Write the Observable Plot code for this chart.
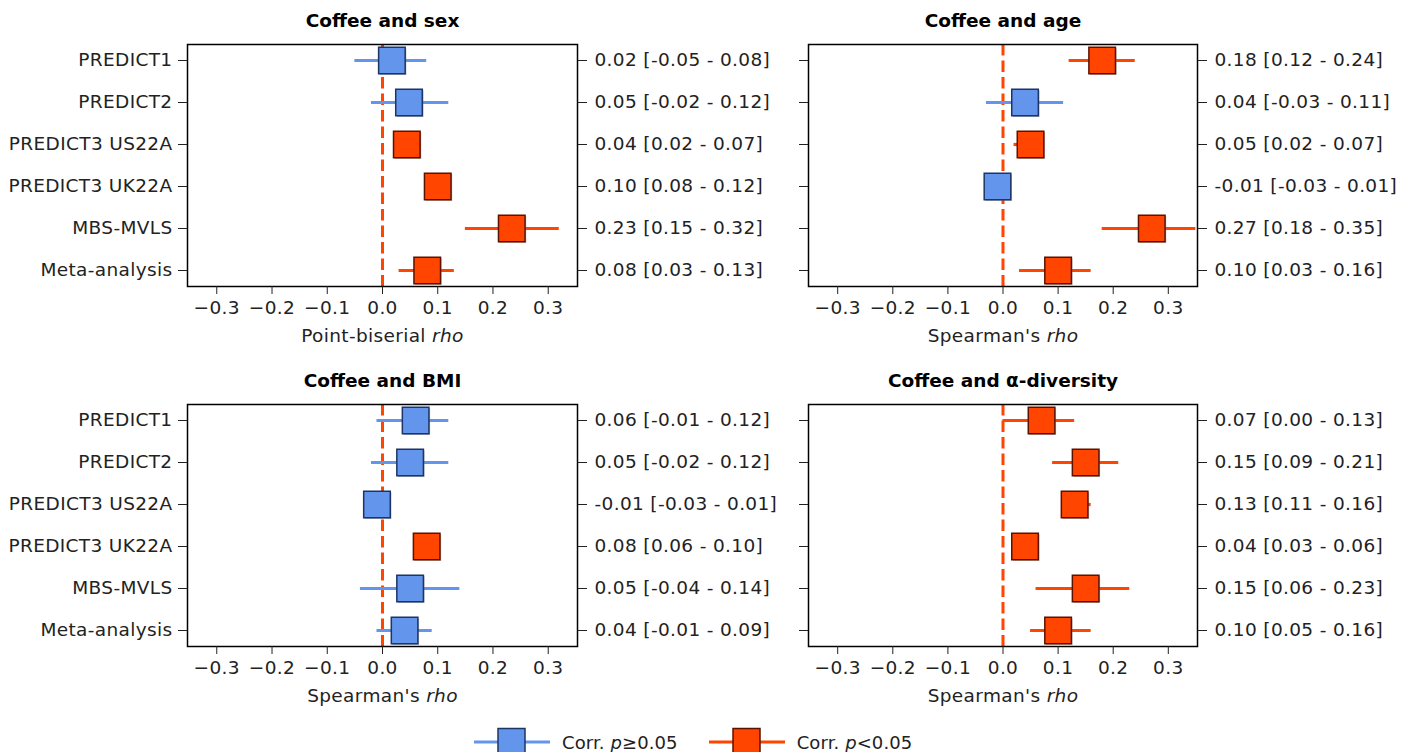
<!DOCTYPE html>
<html>
<head>
<meta charset="utf-8">
<script src="https://cdn.jsdelivr.net/npm/d3@7"></script>
<script src="https://cdn.jsdelivr.net/npm/@observablehq/plot@0.6"></script>
<style>
  html, body { margin: 0; padding: 0; background: #fff; }
  #root { position: relative; width: 1403px; height: 752px; overflow: hidden; font-family: "DejaVu Sans", Verdana, sans-serif; }
  .panel { position: absolute; }
  #legend { position: absolute; left: 473px; top: 727px; display: flex; align-items: center; font-size: 18px; letter-spacing: 0.1px; color: #222; }
  #legend .item { display: flex; align-items: center; }
  #legend .item + .item { margin-left: 30px; }
  #legend svg { display: block; margin-right: 11px; }
</style>
</head>
<body>
<div id="root"></div>
<script>
const studies = ["PREDICT1", "PREDICT2", "PREDICT3 US22A", "PREDICT3 UK22A", "MBS-MVLS", "Meta-analysis"];
const xTicks = [-0.3, -0.2, -0.1, 0, 0.1, 0.2, 0.3];

// Coffee and sex
const sexRho = [0.017, 0.048, 0.044, 0.10, 0.234, 0.081];
const sexLo  = [-0.05, -0.02, 0.02, 0.08, 0.15, 0.03];
const sexHi  = [0.08, 0.12, 0.07, 0.12, 0.32, 0.13];
const sexSig = [false, false, true, true, true, true];
const sexLabels = ["0.02 [-0.05 - 0.08]", "0.05 [-0.02 - 0.12]", "0.04 [0.02 - 0.07]", "0.10 [0.08 - 0.12]", "0.23 [0.15 - 0.32]", "0.08 [0.03 - 0.13]"];

// Coffee and age
const ageRho = [0.18, 0.04, 0.05, -0.01, 0.27, 0.10];
const ageLo  = [0.12, -0.03, 0.02, -0.03, 0.18, 0.03];
const ageHi  = [0.24, 0.11, 0.07, 0.01, 0.35, 0.16];
const ageSig = [true, false, true, false, true, true];
const ageLabels = ["0.18 [0.12 - 0.24]", "0.04 [-0.03 - 0.11]", "0.05 [0.02 - 0.07]", "-0.01 [-0.03 - 0.01]", "0.27 [0.18 - 0.35]", "0.10 [0.03 - 0.16]"];

// Coffee and BMI
const bmiRho = [0.06, 0.05, -0.01, 0.08, 0.05, 0.04];
const bmiLo  = [-0.01, -0.02, -0.03, 0.06, -0.04, -0.01];
const bmiHi  = [0.12, 0.12, 0.01, 0.10, 0.14, 0.09];
const bmiSig = [false, false, false, true, false, false];
const bmiLabels = ["0.06 [-0.01 - 0.12]", "0.05 [-0.02 - 0.12]", "-0.01 [-0.03 - 0.01]", "0.08 [0.06 - 0.10]", "0.05 [-0.04 - 0.14]", "0.04 [-0.01 - 0.09]"];

// Coffee and alpha-diversity
const divRho = [0.07, 0.15, 0.13, 0.04, 0.15, 0.10];
const divLo  = [0.00, 0.09, 0.11, 0.03, 0.06, 0.05];
const divHi  = [0.13, 0.21, 0.16, 0.06, 0.23, 0.16];
const divSig = [true, true, true, true, true, true];
const divLabels = ["0.07 [0.00 - 0.13]", "0.15 [0.09 - 0.21]", "0.13 [0.11 - 0.16]", "0.04 [0.03 - 0.06]", "0.15 [0.06 - 0.23]", "0.10 [0.05 - 0.16]"];

const sigNames = ["p≥0.05", "p<0.05"];
const fillColors = ["#6495ED", "#FF4500"];
const edgeColors = ["#1d3566", "#5c1200"];

const root = document.getElementById("root");

function panel({left, top, rho, lo, hi, sig, labels, title, xlabel, showLeft}) {
  const data = studies.map((s, i) => ({
    study: s, rho: rho[i], lo: lo[i], hi: hi[i],
    sig: sig[i] ? sigNames[1] : sigNames[0], label: labels[i]
  }));
  const labelMap = new Map(data.map(d => [d.study, d.label]));
  const chart = Plot.plot({
    width: showLeft ? 790 : 613,
    height: 360,
    marginLeft: showLeft ? 187 : 18,
    marginRight: showLeft ? 213 : 206,
    marginTop: 44,
    marginBottom: 74,
    style: {fontFamily: "DejaVu Sans, Verdana, sans-serif", fontSize: "18.5px", letterSpacing: "0.35px", background: "transparent", overflow: "visible", color: "#222"},
    x: {domain: [-0.353, 0.353]},
    y: {type: "point", domain: studies, padding: 0.354},
    color: {domain: sigNames, range: fillColors},
    marks: [
      Plot.ruleX([0], {stroke: "#FF4500", strokeWidth: 3, strokeDasharray: "11.5,5"}),
      Plot.ruleY(data, {y: "study", x1: "lo", x2: "hi", stroke: "sig", strokeWidth: 3.2, clip: true}),
      Plot.dot(data, {x: "rho", y: "study", symbol: "square", r: 15, fill: "#777", fillOpacity: 0.45, dx: 1.2, dy: 1.2}),
      Plot.dot(data, {x: "rho", y: "study", symbol: "square", r: 15, fill: "sig",
        stroke: d => edgeColors[sigNames.indexOf(d.sig)], strokeWidth: 1.5}),
      Plot.frame({stroke: "#000", strokeWidth: 1.5}),
      Plot.axisX({ticks: xTicks, tickFormat: d3.format(".1f"), tickSize: 8, tickPadding: 6, label: null}),
      Plot.axisY({anchor: "left", tickSize: 9, tickPadding: 6, tickFormat: showLeft ? (d => d) : (() => ""), label: null}),
      Plot.axisY({anchor: "right", tickSize: 9, tickPadding: 8, tickFormat: d => labelMap.get(d), label: null}),
      Plot.text([title], {frameAnchor: "top", lineAnchor: "middle", dy: -23, text: d => d, fontWeight: "bold", fill: "#000"}),
      Plot.text([xlabel], {frameAnchor: "bottom", lineAnchor: "middle", dy: 50, text: d => d, fill: "#222"})
    ]
  });
  // italicize "rho" in the axis label; tighten title spacing
  d3.select(chart).selectAll("text").each(function() {
    const t = d3.select(this);
    if (this.textContent === xlabel) {
      const head = xlabel.replace(/rho$/, "");
      t.text("");
      t.append("tspan").text(head);
      t.append("tspan").attr("font-style", "italic").text("rho");
    } else if (this.textContent === title) {
      t.attr("letter-spacing", "0");
    }
  });
  chart.classList.add("panel");
  chart.style.left = left + "px";
  chart.style.top = top + "px";
  chart.style.position = "absolute";
  root.appendChild(chart);
}

panel({left: 0, top: 0, rho: sexRho, lo: sexLo, hi: sexHi, sig: sexSig, labels: sexLabels, title: "Coffee and sex", xlabel: "Point-biserial rho", showLeft: true});
panel({left: 790, top: 0, rho: ageRho, lo: ageLo, hi: ageHi, sig: ageSig, labels: ageLabels, title: "Coffee and age", xlabel: "Spearman's rho", showLeft: false});
panel({left: 0, top: 360, rho: bmiRho, lo: bmiLo, hi: bmiHi, sig: bmiSig, labels: bmiLabels, title: "Coffee and BMI", xlabel: "Spearman's rho", showLeft: true});
panel({left: 790, top: 360, rho: divRho, lo: divLo, hi: divHi, sig: divSig, labels: divLabels, title: "Coffee and α-diversity", xlabel: "Spearman's rho", showLeft: false});

// legend
const legend = document.createElement("div");
legend.id = "legend";
sigNames.forEach((name, i) => {
  const item = document.createElement("div");
  item.className = "item";
  item.innerHTML =
    `<svg width="78" height="30"><line x1="1" x2="77" y1="15" y2="15" stroke="${fillColors[i]}" stroke-width="3.2"/>` +
    `<rect x="25" y="1.5" width="27" height="27" fill="${fillColors[i]}" stroke="${edgeColors[i]}" stroke-width="1.5"/></svg>` +
    `<span>Corr. <i>p</i>${name.slice(1)}</span>`;
  legend.appendChild(item);
});
root.appendChild(legend);
</script>
</body>
</html>
